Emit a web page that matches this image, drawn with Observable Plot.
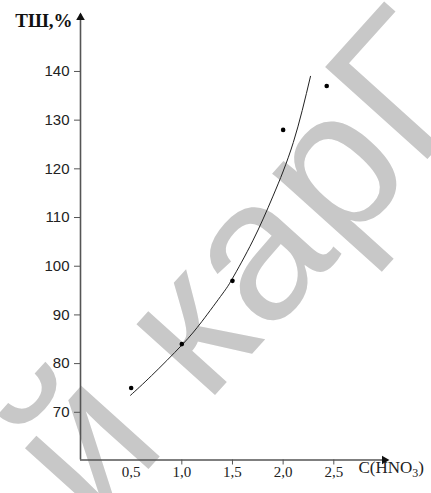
<!DOCTYPE html>
<html>
<head>
<meta charset="utf-8">
<script src="https://cdn.jsdelivr.net/npm/d3@7"></script>
<script src="https://cdn.jsdelivr.net/npm/@observablehq/plot@0.6"></script>
<style>
  body { margin: 0; background: #fff; }
  #chart svg { display: block; }
</style>
</head>
<body>
<div id="chart"></div>
<script>
// Measured points: nitric acid concentration vs ТШ, %
const concentration = [0.5, 1.0, 1.5, 2.0, 2.43];
const tsh = [75, 84, 97, 128, 137];

// Trend curve, sampled along its length
const trendX = [0.494, 0.7, 1.0, 1.2, 1.4, 1.5, 1.7, 1.9, 2.1, 2.27];
const trendY = [73.5, 77.5, 83.8, 88.7, 94.3, 97.5, 105.2, 114.4, 125.4, 139.0];

// Axis ticks and labels
const xTickLabels = [0.5, 1.0, 1.5, 2.0, 2.5];
const xTickMarks = [1.0, 1.5, 2.0, 2.5];
const yTicks = [70, 80, 90, 100, 110, 120, 130, 140];
const yTitle = "ТШ,%";
const xTitle = "C(HNO3)";
const watermark = "й карГ";

const xDomain = [0, 3.03];
const yDomain = [60.2, 151.7];

const points = concentration.map((c, i) => ({c, v: tsh[i]}));
const trend = trendX.map((c, i) => ({c, v: trendY[i]}));

const axisColor = "#555";
const serif = "'Liberation Serif', 'Times New Roman', serif";
const sans = "'Liberation Sans', Arial, sans-serif";

const chart = Plot.plot({
  width: 431,
  height: 493,
  marginLeft: 80,
  marginRight: 44,
  marginTop: 14,
  marginBottom: 33.5,
  style: {background: "#fff", overflow: "hidden"},
  x: {domain: xDomain, axis: null},
  y: {domain: yDomain, axis: null},
  marks: [
    // faint background lettering
    Plot.text([watermark], {
      frameAnchor: "middle", text: d => d, rotate: -48,
      dx: 10, dy: 30,
      fontSize: 200, fontFamily: sans, fill: "#c8c8c8"
    }),
    // axis lines
    Plot.ruleY([yDomain[0]], {stroke: axisColor, strokeWidth: 1.6}),
    Plot.ruleX([0], {stroke: axisColor, strokeWidth: 1.6}),
    // arrow heads
    Plot.dot([{c: 0, v: yDomain[1]}], {x: "c", y: "v", symbol: "triangle", r: 3.2, fill: "#111", stroke: null, dy: 3}),
    Plot.dot([{c: xDomain[1], v: yDomain[0]}], {x: "c", y: "v", symbol: "triangle", r: 3.2, fill: "#111", stroke: null, rotate: 90, dx: -3}),
    // y axis
    Plot.axisY({
      ticks: yTicks, tickSize: 6, tickPadding: 5, label: null,
      fontSize: 15, fontFamily: sans, fill: "#222", stroke: axisColor
    }),
    // x axis tick marks and labels
    Plot.axisX({
      ticks: xTickMarks, tickSize: 5, tickFormat: () => "", label: null, stroke: axisColor
    }),
    Plot.axisX({
      ticks: xTickLabels, tickSize: 0, tickPadding: 6, label: null,
      tickFormat: d => d.toFixed(1).replace(".", ","),
      fontSize: 15, fontFamily: serif, fill: "#222"
    }),
    // axis titles
    Plot.text([yTitle], {
      frameAnchor: "top-left", text: d => d, textAnchor: "end", lineAnchor: "top",
      dx: -8, dy: -1, fontSize: 19, fontWeight: "bold", fontFamily: serif, fill: "#111"
    }),
    Plot.text([xTitle], {
      frameAnchor: "bottom-right", text: d => d, textAnchor: "start", lineAnchor: "middle",
      dx: -29, dy: 8, fontSize: 17, fontFamily: serif, fill: "#222"
    }),
    // trend curve and measured points
    Plot.line(trend, {x: "c", y: "v", curve: "natural", stroke: "#222", strokeWidth: 1}),
    Plot.dot(points, {x: "c", y: "v", r: 2.3, fill: "#000", stroke: null})
  ]
});

// subscript for the formula in the x title
chart.querySelectorAll("text").forEach(t => {
  if (t.textContent === xTitle) {
    t.textContent = "";
    const parts = [["C(HNO", null], ["3", "sub"], [")", null]];
    for (const [s, kind] of parts) {
      const ts = document.createElementNS("http://www.w3.org/2000/svg", "tspan");
      ts.textContent = s;
      if (kind === "sub") { ts.setAttribute("dy", "4"); ts.setAttribute("font-size", "12"); }
      else if (s === ")") { ts.setAttribute("dy", "-4"); }
      t.appendChild(ts);
    }
  }
});

document.getElementById("chart").appendChild(chart);
</script>
</body>
</html>
